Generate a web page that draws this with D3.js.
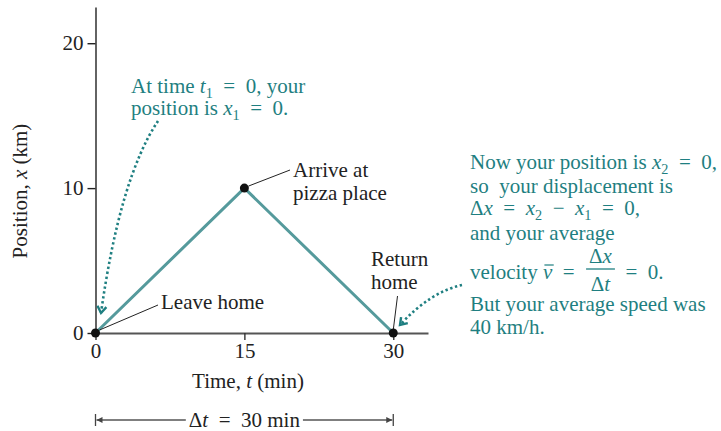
<!DOCTYPE html>
<html>
<head>
<meta charset="utf-8">
<script src="https://cdn.jsdelivr.net/npm/d3@7/dist/d3.min.js"></script>
<style>
  html, body { margin: 0; padding: 0; background: #fff; }
  svg text { font-family: "Liberation Serif", "Times New Roman", serif; }
</style>
</head>
<body>
<svg id="chart" width="721" height="431"></svg>
<script>
// Trip to the pizza place and back: position vs. time
const times = [0, 15, 30];          // min
const positions = [0, 10, 0];       // km
const xTicks = [0, 15, 30];
const yTicks = [0, 10, 20];
const pointLabels = [["Leave home"], ["Arrive at", "pizza place"], ["Return", "home"]];
const deltaT = 30;                  // min

const TEAL_TEXT = "#1f7f81";
const TEAL_LINE = "#559a9c";
const FS = 21;
const SP = "\u2002";                // wide space around math operators

const svg = d3.select("#chart");

const x = d3.scaleLinear().domain([0, 33.5]).range([95.5, 428]);
const y = d3.scaleLinear().domain([0, 22.5]).range([333, 7]);

// Axes
const yAxis = svg.append("g")
  .attr("transform", `translate(${x(0)},0)`)
  .call(d3.axisLeft(y).tickValues(yTicks).tickSize(8).tickSizeOuter(0).tickPadding(4));
yAxis.select(".domain").attr("stroke", "#222").attr("stroke-width", 1.4);
yAxis.selectAll(".tick line").attr("stroke", "#222").attr("stroke-width", 1.4);
yAxis.selectAll(".tick text")
  .attr("font-size", FS).attr("fill", "#222")
  .attr("font-family", "Liberation Serif, serif");

const xAxis = svg.append("g")
  .attr("transform", `translate(0,${y(0)})`)
  .call(d3.axisBottom(x).tickValues(xTicks).tickSize(7).tickSizeOuter(0).tickPadding(3));
xAxis.select(".domain").attr("stroke", "#555").attr("stroke-width", 1.8);
xAxis.selectAll(".tick line").attr("stroke", "#333").attr("stroke-width", 1.4);
xAxis.selectAll(".tick text")
  .attr("font-size", FS).attr("fill", "#222")
  .attr("font-family", "Liberation Serif, serif");

// Rich text helper: segments may be italic (i) or subscript (sub)
function richText(g, px, py, segs, color, fs) {
  const t = g.append("text").attr("x", px).attr("y", py)
    .attr("font-size", fs || FS).attr("fill", color)
    .style("white-space", "pre");
  let shifted = false;
  segs.forEach(s => {
    const sp = t.append("tspan").text(s.t);
    if (s.i) sp.attr("font-style", "italic");
    if (s.sub) {
      sp.attr("font-size", (fs || FS) * 0.68).attr("dy", shifted ? 0 : 5);
      shifted = true;
    } else if (shifted) {
      sp.attr("dy", -5);
      shifted = false;
    }
  });
  return t;
}

// Axis titles
const xt = svg.append("text").attr("x", 248).attr("y", 388)
  .attr("text-anchor", "middle").attr("font-size", FS).attr("fill", "#222");
xt.append("tspan").text("Time, ");
xt.append("tspan").attr("font-style", "italic").text("t");
xt.append("tspan").text(" (min)");

const yt = svg.append("text")
  .attr("transform", "translate(27,191) rotate(-90)")
  .attr("text-anchor", "middle").attr("font-size", FS).attr("fill", "#222");
yt.append("tspan").text("Position, ");
yt.append("tspan").attr("font-style", "italic").text("x");
yt.append("tspan").text(" (km)");

// Trip line
const pts = times.map((t, k) => [t, positions[k]]);
svg.append("path")
  .attr("d", d3.line().x(d => x(d[0])).y(d => y(d[1]))(pts))
  .attr("fill", "none").attr("stroke", TEAL_LINE).attr("stroke-width", 3);

// Point labels with leader lines
const labelDefs = [
  { from: [x(0) + 4, y(0) - 3], to: [158, 305], tx: 161, ty: 309 },
  { from: [x(15) + 4, y(10) - 2], to: [290, 170], tx: 293, ty: 177 },
  { from: [x(30), y(0) - 3], to: [397.5, 296], tx: 371, ty: 266 }
];
labelDefs.forEach((d, k) => {
  svg.append("line")
    .attr("x1", d.from[0]).attr("y1", d.from[1])
    .attr("x2", d.to[0]).attr("y2", d.to[1])
    .attr("stroke", "#222").attr("stroke-width", 1);
  pointLabels[k].forEach((line, j) => {
    svg.append("text").attr("x", d.tx).attr("y", d.ty + j * 23)
      .attr("font-size", FS).attr("fill", "#222").text(line);
  });
});

// Data points
svg.selectAll("circle.pt").data(pts).join("circle")
  .attr("class", "pt")
  .attr("cx", d => x(d[0])).attr("cy", d => y(d[1]))
  .attr("r", 4.5).attr("fill", "#111");

// Dotted callout arrows
function dottedArrow(p0, c, p1) {
  svg.append("path")
    .attr("d", `M${p0[0]},${p0[1]} Q${c[0]},${c[1]} ${p1[0]},${p1[1]}`)
    .attr("fill", "none").attr("stroke", TEAL_TEXT)
    .attr("stroke-width", 2.6).attr("stroke-dasharray", "2.4,2.6");
  const ang = Math.atan2(p1[1] - c[1], p1[0] - c[0]);
  const L = 8, spread = 0.6;
  const a1 = [p1[0] - L * Math.cos(ang - spread), p1[1] - L * Math.sin(ang - spread)];
  const a2 = [p1[0] - L * Math.cos(ang + spread), p1[1] - L * Math.sin(ang + spread)];
  svg.append("path")
    .attr("d", `M${a1[0]},${a1[1]} L${p1[0]},${p1[1]} L${a2[0]},${a2[1]}`)
    .attr("fill", "none").attr("stroke", TEAL_TEXT).attr("stroke-width", 2.4);
}
dottedArrow([158, 121], [120, 178], [101, 313]);
dottedArrow([462, 285], [430, 292], [400, 325]);

// Callout at the start
richText(svg, 131, 93, [{t: "At time "}, {t: "t", i: true}, {t: "1", sub: true}, {t: `${SP}=${SP}0, your`}], TEAL_TEXT);
richText(svg, 131, 115, [{t: "position is "}, {t: "x", i: true}, {t: "1", sub: true}, {t: `${SP}=${SP}0.`}], TEAL_TEXT);

// Callout at the end
const RX = 470;
richText(svg, RX, 169, [{t: "Now your position is "}, {t: "x", i: true}, {t: "2", sub: true}, {t: `${SP}=${SP}0,`}], TEAL_TEXT);
richText(svg, RX, 193, [{t: "so\u00a0 your displacement is"}], TEAL_TEXT);
richText(svg, RX, 215, [{t: "\u0394"}, {t: "x", i: true}, {t: `${SP}=${SP}`}, {t: "x", i: true}, {t: "2", sub: true},
  {t: `${SP}\u2212${SP}`}, {t: "x", i: true}, {t: "1", sub: true}, {t: `${SP}=${SP}0,`}], TEAL_TEXT);
richText(svg, RX, 240, [{t: "and your average"}], TEAL_TEXT);

// velocity line with fraction
const vl = svg.append("text").attr("x", RX).attr("y", 279).attr("font-size", FS).attr("fill", TEAL_TEXT)
  .style("white-space", "pre");
vl.append("tspan").text("velocity ");
const vSpan = vl.append("tspan").attr("font-style", "italic").text("v");
vl.append("tspan").text(`${SP}=${SP}`);
const vEnd = RX + vl.node().getComputedTextLength();
const vStart = RX + vl.node().getSubStringLength(0, 9);
const vW = vSpan.node().getComputedTextLength();
svg.append("line").attr("x1", vStart + 1.5).attr("x2", vStart + vW + 1.5)
  .attr("y1", 265).attr("y2", 265).attr("stroke", TEAL_TEXT).attr("stroke-width", 1.2);
const fracX = vEnd + 1;
const num = richText(svg, 0, 263, [{t: "\u0394"}, {t: "x", i: true}], TEAL_TEXT);
const den = richText(svg, 0, 291, [{t: "\u0394"}, {t: "t", i: true}], TEAL_TEXT);
const fw = Math.max(num.node().getComputedTextLength(), den.node().getComputedTextLength()) + 6;
num.attr("x", fracX + fw / 2).attr("text-anchor", "middle");
den.attr("x", fracX + fw / 2).attr("text-anchor", "middle");
svg.append("line").attr("x1", fracX).attr("x2", fracX + fw)
  .attr("y1", 269).attr("y2", 269).attr("stroke", TEAL_TEXT).attr("stroke-width", 1.3);
richText(svg, fracX + fw, 279, [{t: `${SP}=${SP}0.`}], TEAL_TEXT);

richText(svg, RX, 311, [{t: "But your average speed was"}], TEAL_TEXT);
richText(svg, RX, 334, [{t: "40 km/h."}], TEAL_TEXT);

// Elapsed-time bracket
const by = 420;
const dt = svg.append("text").attr("x", (x(0) + x(deltaT)) / 2).attr("y", 427)
  .attr("text-anchor", "middle").attr("font-size", FS).attr("fill", "#222")
  .style("white-space", "pre");
dt.append("tspan").text("\u0394");
dt.append("tspan").attr("font-style", "italic").text("t");
dt.append("tspan").text(`${SP}=${SP}${deltaT} min`);
const dtw = dt.node().getComputedTextLength();
const cx = (x(0) + x(deltaT)) / 2;
[[x(0), cx - dtw / 2 - 3, -1], [x(deltaT), cx + dtw / 2 + 3, 1]].forEach(([end, inner, dir]) => {
  svg.append("line").attr("x1", end).attr("x2", end).attr("y1", by - 6).attr("y2", by + 6)
    .attr("stroke", "#444").attr("stroke-width", 1.3);
  svg.append("line").attr("x1", inner).attr("x2", end - dir * 1).attr("y1", by).attr("y2", by)
    .attr("stroke", "#555").attr("stroke-width", 1.3);
  svg.append("path")
    .attr("d", `M${end - dir * 7},${by - 3} L${end - dir * 1},${by} L${end - dir * 7},${by + 3} Z`)
    .attr("fill", "#444");
});
</script>
</body>
</html>
